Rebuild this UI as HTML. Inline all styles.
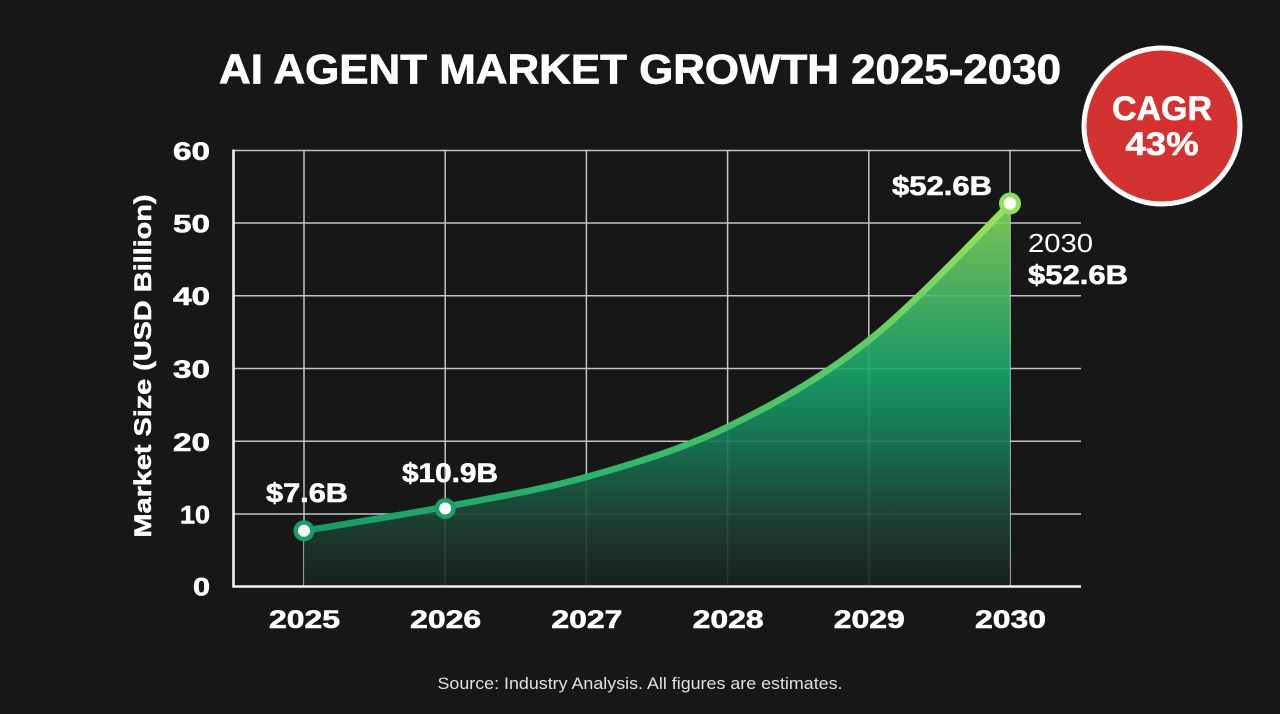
<!DOCTYPE html>
<html>
<head>
<meta charset="utf-8">
<style>
  html,body{margin:0;padding:0;background:#171717;}
  svg{display:block;}
  text{font-family:"Liberation Sans",sans-serif;}
</style>
</head>
<body>
<svg width="1280" height="714" viewBox="0 0 1280 714" xmlns="http://www.w3.org/2000/svg">
  <defs>
    <linearGradient id="fillG" gradientUnits="userSpaceOnUse" x1="0" y1="200" x2="0" y2="586">
      <stop offset="0" stop-color="#8ad85a"/>
      <stop offset="0.26" stop-color="#48bb68"/>
      <stop offset="0.46" stop-color="#16a46c"/>
      <stop offset="0.63" stop-color="#167a57"/>
      <stop offset="0.80" stop-color="#1c4b39"/>
      <stop offset="1" stop-color="#1a201d"/>
    </linearGradient>
    <linearGradient id="lineG" gradientUnits="userSpaceOnUse" x1="304" y1="0" x2="1010" y2="0">
      <stop offset="0" stop-color="#179a68"/>
      <stop offset="0.42" stop-color="#2db56b"/>
      <stop offset="0.8" stop-color="#60cc66"/>
      <stop offset="1" stop-color="#9be45c"/>
    </linearGradient>
  </defs>

  <rect width="1280" height="714" fill="#171717"/>

  <!-- Title -->
  <text x="640" y="83.5" font-size="42" font-weight="bold" fill="#ffffff" stroke="#ffffff" stroke-width="0.8" text-anchor="middle" textLength="842" lengthAdjust="spacingAndGlyphs">AI AGENT MARKET GROWTH 2025-2030</text>

  <!-- Grid -->
  <g stroke="#c4c4c4" stroke-width="1.5" fill="none">
    <line x1="233" y1="150.5" x2="1081" y2="150.5"/>
    <line x1="233" y1="223" x2="1081" y2="223"/>
    <line x1="233" y1="295.7" x2="1081" y2="295.7"/>
    <line x1="233" y1="368.5" x2="1081" y2="368.5"/>
    <line x1="233" y1="441.3" x2="1081" y2="441.3"/>
    <line x1="233" y1="514" x2="1081" y2="514"/>
    <line x1="304" y1="150" x2="304" y2="586"/>
    <line x1="445.2" y1="150" x2="445.2" y2="586"/>
    <line x1="586.4" y1="150" x2="586.4" y2="586"/>
    <line x1="727.6" y1="150" x2="727.6" y2="586"/>
    <line x1="868.8" y1="150" x2="868.8" y2="586"/>
    <line x1="1010" y1="150" x2="1010" y2="586"/>
  </g>

  <!-- Area fill -->
  <path d="M304,530.8 C327.5,526.8 398.1,515.8 445.2,506.8 C492.3,497.8 539.3,490.3 586.4,477 C633.5,463.7 680.5,449.7 727.6,426.9 C774.7,404.1 821.7,377.6 868.8,340.4 C915.9,303.2 986.5,226.6 1010,203.8 L1010,586 L304,586 Z" fill="url(#fillG)" opacity="0.9"/>

  <!-- Axes -->
  <g stroke="#f2f2f2" stroke-width="2.6" fill="none">
    <line x1="233.5" y1="149.5" x2="233.5" y2="587.5"/>
    <line x1="232.5" y1="586.5" x2="1081" y2="586.5"/>
  </g>

  <!-- Line -->
  <path d="M304,530.8 C327.5,526.8 398.1,515.8 445.2,506.8 C492.3,497.8 539.3,490.3 586.4,477 C633.5,463.7 680.5,449.7 727.6,426.9 C774.7,404.1 821.7,377.6 868.8,340.4 C915.9,303.2 986.5,226.6 1010,203.8" fill="none" stroke="url(#lineG)" stroke-width="6.5" stroke-linecap="round"/>

  <!-- Markers -->
  <circle cx="304" cy="530.8" r="10.5" fill="#1a9e66"/>
  <circle cx="304" cy="530.8" r="6" fill="#ffffff"/>
  <circle cx="445.2" cy="508.5" r="10.5" fill="#1a9e66"/>
  <circle cx="445.2" cy="508.5" r="6" fill="#ffffff"/>
  <circle cx="1010" cy="203.5" r="11" fill="#8fe05c"/>
  <circle cx="1010" cy="203.5" r="6.2" fill="#ffffff"/>

  <!-- Value labels -->
  <g font-weight="bold" fill="#ffffff" stroke="#ffffff" stroke-width="0.6" font-size="27">
    <text x="307" y="502" text-anchor="middle" textLength="82" lengthAdjust="spacingAndGlyphs">$7.6B</text>
    <text x="450" y="482" text-anchor="middle" textLength="96" lengthAdjust="spacingAndGlyphs">$10.9B</text>
    <text x="942" y="195" text-anchor="middle" textLength="100" lengthAdjust="spacingAndGlyphs">$52.6B</text>
    <text x="1028" y="284" textLength="100" lengthAdjust="spacingAndGlyphs">$52.6B</text>
  </g>
  <text x="1028" y="252" font-size="26" fill="#ffffff" textLength="65" lengthAdjust="spacingAndGlyphs">2030</text>

  <!-- Y tick labels -->
  <g font-weight="bold" fill="#ffffff" stroke="#ffffff" stroke-width="0.6" font-size="25" text-anchor="end">
    <text x="210" y="160" textLength="37" lengthAdjust="spacingAndGlyphs">60</text>
    <text x="210" y="232.5" textLength="37" lengthAdjust="spacingAndGlyphs">50</text>
    <text x="210" y="305.2" textLength="37" lengthAdjust="spacingAndGlyphs">40</text>
    <text x="210" y="378" textLength="37" lengthAdjust="spacingAndGlyphs">30</text>
    <text x="210" y="450.8" textLength="37" lengthAdjust="spacingAndGlyphs">20</text>
    <text x="210" y="523.5" textLength="30" lengthAdjust="spacingAndGlyphs">10</text>
    <text x="210" y="595.5" textLength="17" lengthAdjust="spacingAndGlyphs">0</text>
  </g>

  <!-- X tick labels -->
  <g font-weight="bold" fill="#ffffff" stroke="#ffffff" stroke-width="0.6" font-size="25" text-anchor="middle">
    <text x="304.5" y="628" textLength="71" lengthAdjust="spacingAndGlyphs">2025</text>
    <text x="445.7" y="628" textLength="71" lengthAdjust="spacingAndGlyphs">2026</text>
    <text x="586.9" y="628" textLength="71" lengthAdjust="spacingAndGlyphs">2027</text>
    <text x="728.1" y="628" textLength="71" lengthAdjust="spacingAndGlyphs">2028</text>
    <text x="869.3" y="628" textLength="71" lengthAdjust="spacingAndGlyphs">2029</text>
    <text x="1010.5" y="628" textLength="71" lengthAdjust="spacingAndGlyphs">2030</text>
  </g>

  <!-- Y axis title -->
  <text transform="translate(151,366) rotate(-90)" font-weight="bold" font-size="24" fill="#ffffff" stroke="#ffffff" stroke-width="0.5" text-anchor="middle" textLength="343" lengthAdjust="spacingAndGlyphs">Market Size (USD Billion)</text>

  <!-- CAGR badge -->
  <circle cx="1162" cy="126" r="78" fill="#d43131" stroke="#ffffff" stroke-width="5"/>
  <text x="1162" y="120" font-weight="bold" font-size="34" fill="#ffffff" stroke="#ffffff" stroke-width="0.6" text-anchor="middle" textLength="100" lengthAdjust="spacingAndGlyphs">CAGR</text>
  <text x="1162" y="155" font-weight="bold" font-size="32" fill="#ffffff" stroke="#ffffff" stroke-width="0.6" text-anchor="middle" textLength="73" lengthAdjust="spacingAndGlyphs">43%</text>

  <!-- Source -->
  <text x="640" y="689" font-size="16.5" fill="#e0e0e0" text-anchor="middle" textLength="405" lengthAdjust="spacingAndGlyphs">Source: Industry Analysis. All figures are estimates.</text>
</svg>
</body>
</html>
